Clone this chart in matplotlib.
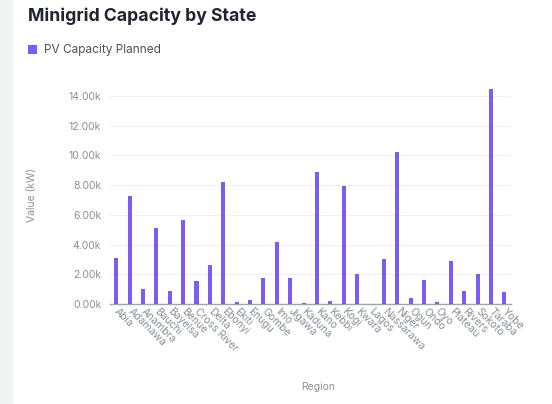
import matplotlib.pyplot as plt
from matplotlib.patches import Rectangle
from matplotlib.ticker import FuncFormatter, MultipleLocator

states = [
    "Abia", "Adamawa", "Anambra", "Bauchi", "Bayelsa", "Benue", "Cross River",
    "Delta", "Ebonyi", "Ekiti", "Enugu", "Gombe", "Imo", "Jigawa", "Kaduna",
    "Kano", "Kebbi", "Kogi", "Kwara", "Lagos", "Nassarawa", "Niger", "Ogun",
    "Ondo", "Oyo", "Plateau", "Rivers", "Sokoto", "Taraba", "Yobe",
]
pv_planned = [
    3090, 7250, 980, 5100, 850, 5640, 1550,
    2600, 8230, 110, 270, 1750, 4200, 1760, 90,
    8910, 200, 7960, 2000, 20, 3010, 10210, 380,
    1600, 130, 2900, 900, 2030, 14450, 800,
]

BAR_COLOR = "#7c5cf2"
TEXT_GRAY = "#8a8f98"

plt.rcParams["font.family"] = ["Inter", "DejaVu Sans"]

fig = plt.figure(figsize=(5.52, 4.04), dpi=100)
fig.patch.set_facecolor("white")
# light grey page strip on the left edge
fig.patches.append(Rectangle((0, 0), 13 / 552, 1, transform=fig.transFigure,
                             facecolor="#f2f3f5", edgecolor="none", zorder=0))

ax = fig.add_axes([0.1984, 0.2475, 0.7273, 0.5372])
x = range(len(states))
ax.bar(x, pv_planned, width=0.3, color=BAR_COLOR, zorder=3)

ax.set_xlim(-0.5, len(states) - 0.5)
ax.set_ylim(0, 14600)
ax.yaxis.set_major_locator(MultipleLocator(2000))
ax.yaxis.set_major_formatter(FuncFormatter(lambda v, _: f"{v / 1000:.2f}k"))
ax.grid(axis="y", color="#f1f1f3", linewidth=0.8, zorder=0)

for side in ("top", "right", "left"):
    ax.spines[side].set_visible(False)
ax.spines["bottom"].set_color("#a0a4ab")
ax.spines["bottom"].set_linewidth(1.0)

ax.tick_params(axis="y", length=0, pad=6, labelsize=7.5, labelcolor=TEXT_GRAY)
ax.tick_params(axis="x", length=0, pad=4, labelsize=7.5, labelcolor=TEXT_GRAY)
ax.set_xticks(list(x))
ax.set_xticklabels(states, rotation=-45, rotation_mode="anchor",
                   ha="left", va="center")

ax.set_ylabel("Value (kW)", fontsize=7.5, color=TEXT_GRAY)
ax.set_xlabel("Region", fontsize=7.5, color=TEXT_GRAY)
ax.xaxis.set_label_coords(0.52, -0.36)
ax.yaxis.set_label_coords(-0.18, 0.5)

fig.text(28 / 552, 1 - 16 / 404, "Minigrid Capacity by State", fontsize=12.7,
         fontweight="bold", color="#1f2430", ha="left", va="center")
fig.patches.append(Rectangle((28 / 552, 1 - 54 / 404), 9 / 552, 9 / 404,
                             transform=fig.transFigure, facecolor=BAR_COLOR,
                             edgecolor="none"))
fig.text(44 / 552, 1 - 50 / 404, "PV Capacity Planned", fontsize=8.5,
         color="#4b5060", ha="left", va="center")

fig.savefig("out.png", dpi=100)
